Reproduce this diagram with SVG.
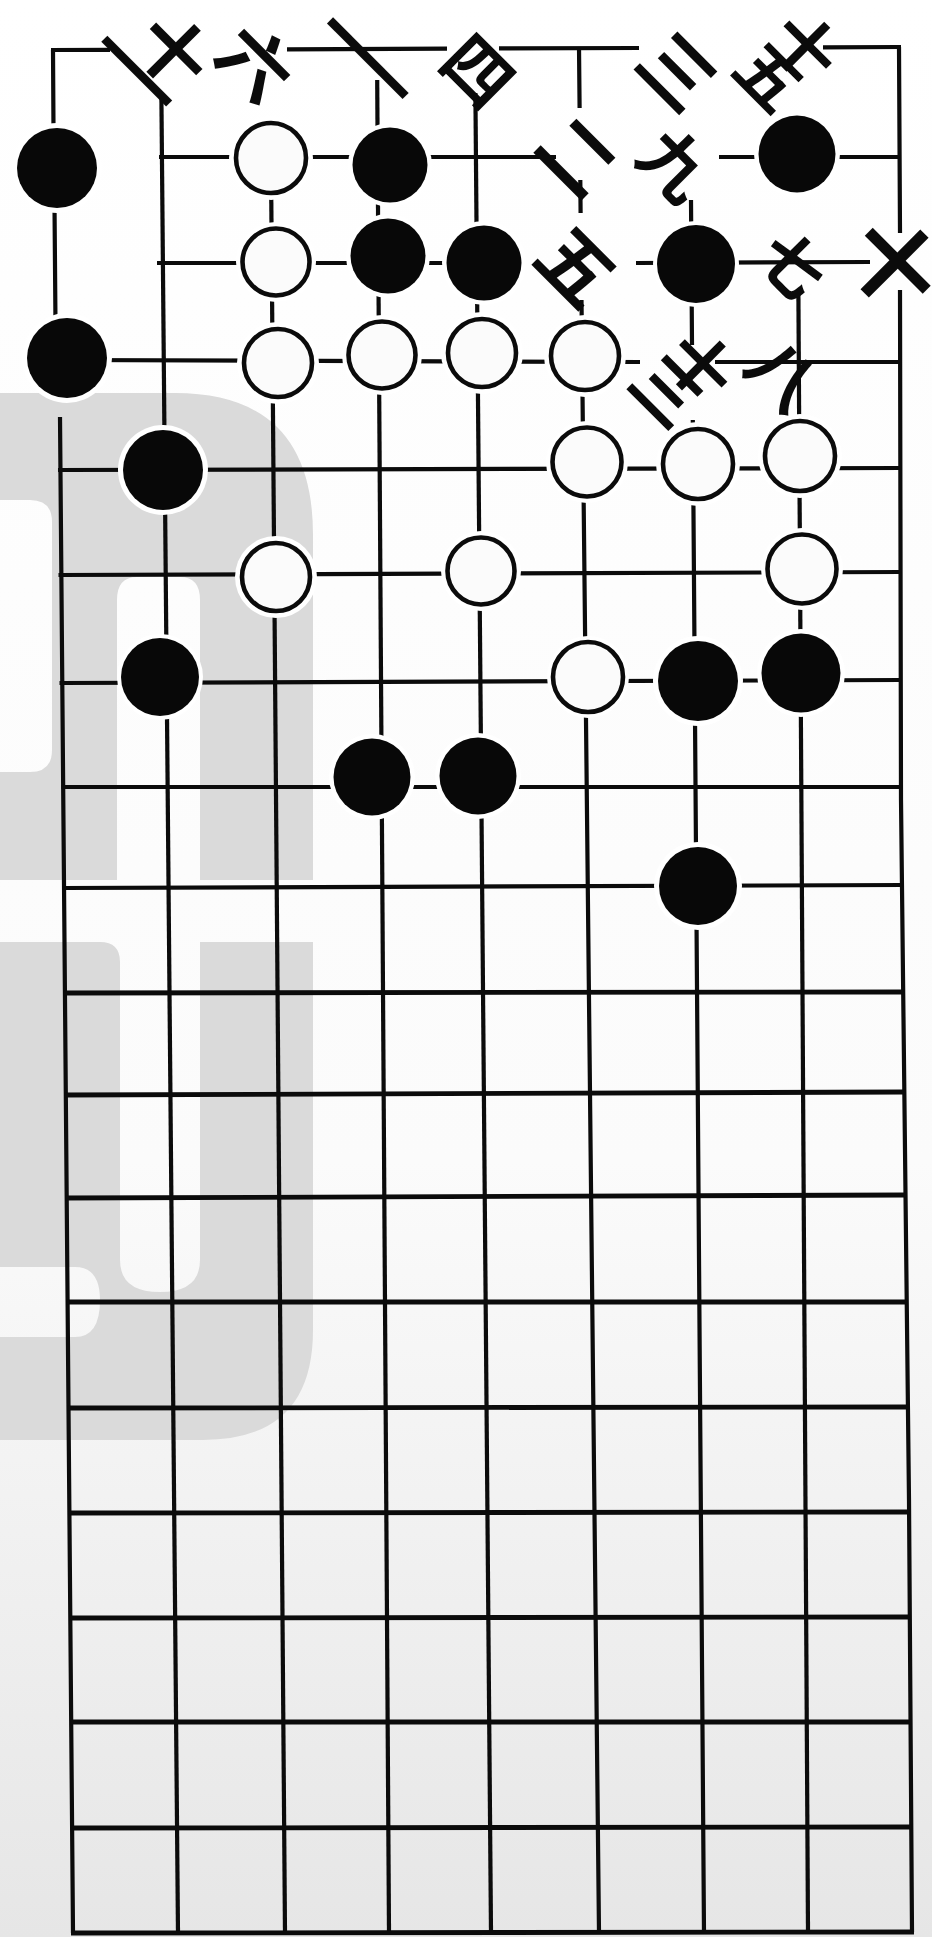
<svg xmlns="http://www.w3.org/2000/svg" width="932" height="1937" viewBox="0 0 932 1937">
<defs>
<linearGradient id="paper" x1="0" y1="0" x2="0" y2="1">
<stop offset="0" stop-color="#ffffff"/>
<stop offset="0.6" stop-color="#fbfbfb"/>
<stop offset="1" stop-color="#e6e6e6"/>
</linearGradient>
</defs>
<style>
.ln{stroke:#0b0b0b;stroke-width:4.2;fill:none;stroke-linecap:butt}
.lo{stroke-width:4.8}
.wm{fill:#dadada;fill-rule:evenodd}
.halo{fill:#ffffff}
.bs{fill:#080808}
.ws{fill:#fbfbfb;stroke:#0b0b0b;stroke-width:4.6}
.lbl{font-family:"Noto Sans CJK SC","Noto Sans CJK JP",sans-serif;font-weight:700;fill:#0b0b0b;text-anchor:middle;dominant-baseline:central}
</style>
<rect width="932" height="1937" fill="url(#paper)"/>
<g id="watermark">
<path class="wm" d="M0,393 H175 Q313,393 313,535 V880 H200 V600 Q200,577 180,577 H137 Q117,577 117,600 V880 H0 Z M0,500 H30 Q52,500 52,522 V750 Q52,772 30,772 H0 Z"/>
<path class="wm" d="M0,942 H100 Q120,942 120,962 V1260 Q120,1292 160,1292 Q200,1292 200,1260 V942 H313 V1330 Q313,1440 203,1440 H0 Z M0,1267 H75 Q100,1267 100,1300 Q100,1337 75,1337 H0 Z"/>
</g>
<g id="connectors">
<path class="ln" d="M53,50 L53.5,130 M54.5,205 L55.5,325 M60,417 L73,1933"/>
<path class="ln" d="M161.4,97 L178,1933"/>
<path class="ln" d="M270.9,150 L285,1933"/>
<path class="ln" d="M377.2,80 L389,1933"/>
<path class="ln" d="M475.4,93 L491,1933"/>
<path class="ln" d="M579,47 L579.6,108 M580.3,180 L580.6,213 M581.5,300 L599,1933"/>
<path class="ln" d="M691,200 L692,345 M692.8,420 L704,1933"/>
<path class="ln" d="M798.4,293 L808,1933"/>
<path class="ln" d="M899,47 L900,233 M900,290 L901,800 L909,1500 L912,1932"/>
<path class="ln" d="M51,50 L110,49.8 M287,49.3 L447,48.7 M499,48.4 L639,48 M823,47.3 L901,47"/>
<path class="ln" d="M159,157 L556,157 M719,157 L900,157"/>
<path class="ln" d="M157,263 L486,263 M636,263 L870,262"/>
<path class="ln" d="M67,360 L640,362 M715,362 L900,362"/>
<path class="ln" d="M58,470 L902,468"/>
<path class="ln" d="M58.5,575 L902,572"/>
<path class="ln" d="M59.5,683 L902,680"/>
<path class="ln" d="M61.5,787 L902.5,787"/>
<path class="ln" d="M62.5,888 L903,885"/>
<path class="ln lo" d="M63.5,993 L904,992"/>
<path class="ln lo" d="M64.5,1095 L905,1092"/>
<path class="ln lo" d="M65.5,1198 L906,1195"/>
<path class="ln lo" d="M66.5,1302 L907.5,1302"/>
<path class="ln lo" d="M67.5,1408 L908.5,1407"/>
<path class="ln lo" d="M68.5,1513 L910,1512"/>
<path class="ln lo" d="M69.5,1618 L910.5,1617"/>
<path class="ln lo" d="M70.5,1722 L911,1722"/>
<path class="ln lo" d="M71.5,1828 L912,1827"/>
<path class="ln lo" d="M71,1933 L914,1932"/>
</g>
<g id="halos">
<circle class="halo" cx="57" cy="168" r="45"/><circle class="halo" cx="67" cy="358" r="45"/>
<circle class="halo" cx="390" cy="165" r="42"/><circle class="halo" cx="388" cy="256" r="42"/>
<circle class="halo" cx="484" cy="263" r="42"/><circle class="halo" cx="797" cy="154" r="43"/>
<circle class="halo" cx="696" cy="264" r="43"/><circle class="halo" cx="163" cy="470" r="45"/>
<circle class="halo" cx="160" cy="677" r="43"/><circle class="halo" cx="372" cy="777" r="43"/>
<circle class="halo" cx="478" cy="776" r="43"/><circle class="halo" cx="698" cy="681" r="45"/>
<circle class="halo" cx="801" cy="673" r="44"/><circle class="halo" cx="698" cy="886" r="44"/>
<circle class="halo" cx="271" cy="158" r="42"/><circle class="halo" cx="276" cy="262" r="40"/>
<circle class="halo" cx="278" cy="363" r="41"/><circle class="halo" cx="382" cy="355" r="40"/>
<circle class="halo" cx="482" cy="353" r="41"/><circle class="halo" cx="585" cy="356" r="41"/>
<circle class="halo" cx="587" cy="462" r="41"/><circle class="halo" cx="698" cy="464" r="42"/>
<circle class="halo" cx="800" cy="456" r="42"/><circle class="halo" cx="802" cy="569" r="41"/>
<circle class="halo" cx="481" cy="571" r="40"/><circle class="halo" cx="588" cy="677" r="41"/>
<circle class="halo" cx="276" cy="577" r="41"/>
</g>
<g id="black-stones">
<circle id="b1" class="bs" cx="57" cy="168" r="40"/>
<circle id="b2" class="bs" cx="67" cy="358" r="40"/>
<circle id="b3" class="bs" cx="390" cy="165" r="37.5"/>
<circle id="b4" class="bs" cx="388" cy="256" r="37.5"/>
<circle id="b5" class="bs" cx="484" cy="263" r="37.5"/>
<circle id="b6" class="bs" cx="797" cy="154" r="38.5"/>
<circle id="b7" class="bs" cx="696" cy="264" r="39"/>
<circle id="b8" class="bs" cx="163" cy="470" r="40"/>
<circle id="b9" class="bs" cx="160" cy="677" r="39"/>
<circle id="b10" class="bs" cx="372" cy="777" r="38.5"/>
<circle id="b11" class="bs" cx="478" cy="776" r="38.5"/>
<circle id="b12" class="bs" cx="698" cy="681" r="40"/>
<circle id="b13" class="bs" cx="801" cy="673" r="39.5"/>
<circle id="b14" class="bs" cx="698" cy="886" r="39"/>
</g>
<g id="white-stones">
<circle id="w1" class="ws" cx="271" cy="158" r="35"/>
<circle id="w2" class="ws" cx="276" cy="262" r="33.5"/>
<circle id="w3" class="ws" cx="278" cy="363" r="34"/>
<circle id="w4" class="ws" cx="382" cy="355" r="33.5"/>
<circle id="w5" class="ws" cx="482" cy="353" r="34"/>
<circle id="w6" class="ws" cx="585" cy="356" r="34"/>
<circle id="w7" class="ws" cx="587" cy="462" r="34.5"/>
<circle id="w8" class="ws" cx="698" cy="464" r="35"/>
<circle id="w9" class="ws" cx="800" cy="456" r="35"/>
<circle id="w10" class="ws" cx="802" cy="569" r="34.5"/>
<circle id="w11" class="ws" cx="481" cy="571" r="33.5"/>
<circle id="w12" class="ws" cx="588" cy="677" r="35"/>
<circle id="w13" class="ws" cx="276" cy="577" r="34"/>
</g>
<g id="labels">
<g id="l11" transform="translate(158,58) rotate(45)"><text class="lbl" x="6" y="-20" font-size="72">十</text><text class="lbl" transform="translate(-6,21) scale(1.5,1)" font-size="66">一</text></g>
<g id="l6" transform="translate(259,60) rotate(45)"><text class="lbl" font-size="72">六</text></g>
<g id="l1" transform="translate(370,56) rotate(45) scale(1.75,1)"><text class="lbl" font-size="66">一</text></g>
<g id="l4" transform="translate(481,68) rotate(45)"><text class="lbl" font-size="68">四</text></g>
<g id="l3" transform="translate(681,68) rotate(45)"><text class="lbl" font-size="74">三</text></g>
<g id="l15" transform="translate(789,60) rotate(45)"><text class="lbl" x="2" y="-25" font-size="66">十</text><text class="lbl" x="-2" y="22" font-size="64">五</text></g>
<g id="l2" transform="translate(581,153) rotate(45)"><text class="lbl" font-size="76">二</text></g>
<g id="l9" transform="translate(678,162) rotate(45)"><text class="lbl" font-size="68">九</text></g>
<g id="l5" transform="translate(580,263) rotate(45)"><text class="lbl" font-size="74">五</text></g>
<g id="l7" transform="translate(795,262) rotate(45)"><text class="lbl" font-size="64">七</text></g>
<g id="l10" transform="translate(898,260) rotate(45)"><text class="lbl" font-size="90">十</text></g>
<g id="l13" transform="translate(686,376) rotate(45)"><text class="lbl" x="3" y="-22" font-size="66">十</text><text class="lbl" x="-3" y="20" font-size="68">三</text></g>
<g id="l8" transform="translate(786,372) rotate(45)"><text class="lbl" font-size="68">八</text></g>
</g>
</svg>
